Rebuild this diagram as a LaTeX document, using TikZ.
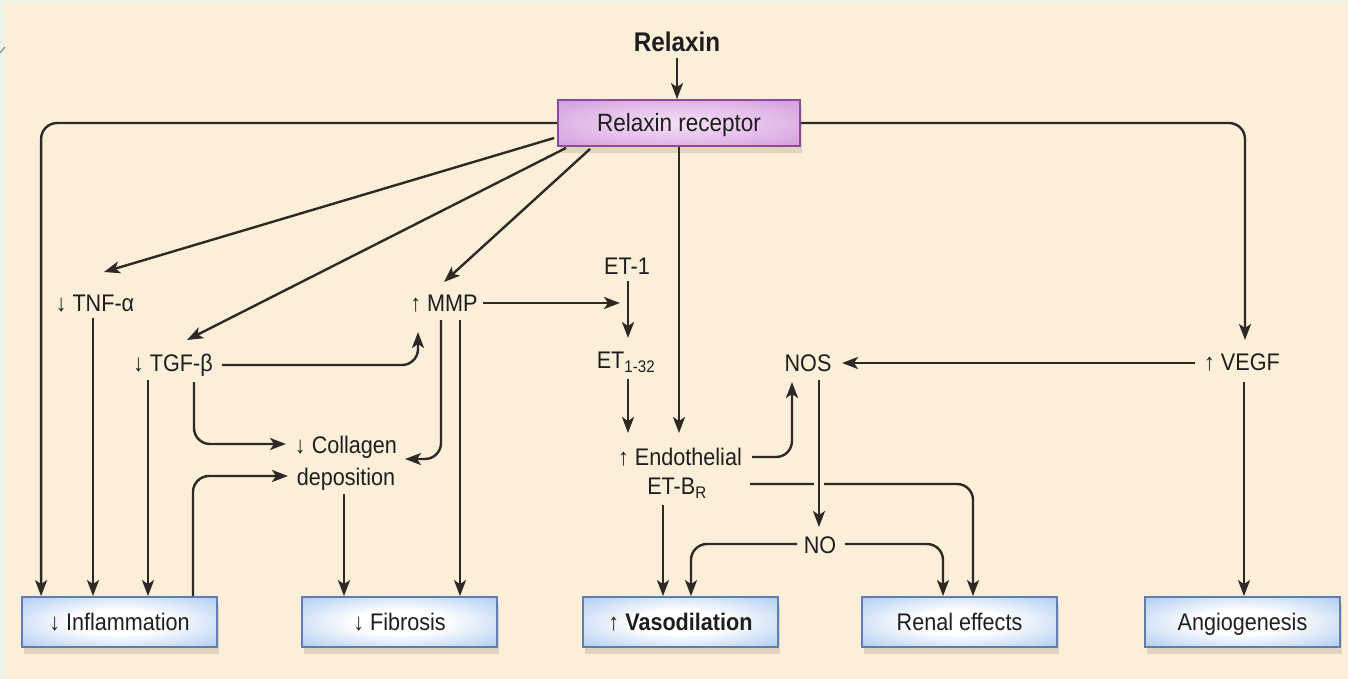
\documentclass[tikz,border=0pt]{standalone}
\usepackage{fontspec}
\setmainfont{Liberation Sans}[FakeStretch=0.9]
\usetikzlibrary{arrows.meta,calc,shadows}
\definecolor{bggreen}{HTML}{EEF2E2}
\definecolor{cream}{HTML}{FCEFDA}
\definecolor{ink}{HTML}{2E2925}
\definecolor{txt}{HTML}{1E1E1E}
\definecolor{bluebd}{HTML}{5F7DAE}
\definecolor{blueout}{HTML}{92B5E8}
\definecolor{bluemid}{HTML}{C3D9F5}
\definecolor{purbd}{HTML}{8C4A98}
\definecolor{purout}{HTML}{BF78CE}
\definecolor{purmid}{HTML}{E6C0EC}
\definecolor{purin}{HTML}{F3E1F5}
\definecolor{purmo}{HTML}{D29CDD}
\definecolor{shadowc}{HTML}{8A7A5E}
\pgfdeclareradialshading{blueglow}{\pgfpoint{0bp}{0bp}}{color(0bp)=(white); color(12bp)=(white); color(30bp)=(bluemid); color(46bp)=(blueout); color(72bp)=(blueout)}
\pgfdeclareradialshading{purglow}{\pgfpoint{0bp}{0bp}}{color(0bp)=(purin); color(18bp)=(purmid); color(36bp)=(purmo); color(48bp)=(purout); color(72bp)=(purout)}
\tikzset{
  lbl/.style={inner sep=0pt, text=txt, font=\fontsize{24}{28}\selectfont, text height=17pt, text depth=0pt},
  outbox/.style={draw=bluebd, line width=1.8pt, shading=blueglow, minimum width=195pt, minimum height=50pt, inner sep=0pt, text=txt, font=\fontsize{24}{28}\selectfont, text height=17pt, text depth=0pt, drop shadow={shadow xshift=2pt, shadow yshift=-7pt, fill=shadowc, opacity=0.22}},
  recbox/.style={draw=purbd, line width=1.8pt, shading=purglow, minimum width=242pt, minimum height=46pt, inner sep=0pt, text=txt, font=\fontsize{25}{29}\selectfont, text height=18pt, text depth=0pt, drop shadow={shadow xshift=2pt, shadow yshift=-7pt, fill=shadowc, opacity=0.22}},
  conn/.style={draw=ink, line width=2.4pt, -{Stealth[length=16pt,width=12pt,inset=4pt]}, rounded corners=16pt},
}
\begin{document}
\begin{tikzpicture}[x=1pt,y=-1pt]
\useasboundingbox (0,0) rectangle (1348,679);
\fill[bggreen] (0,0) rectangle (1348,679);
\fill[cream] (5,3) rectangle (1348,679);
\draw[gray, line width=1pt] (0,53) -- (5,47);

% nodes
\node[lbl, font=\bfseries\fontsize{27}{31}\selectfont, text height=19pt] (relaxin) at (677,42) {Relaxin};
\node[recbox] (rec) at (679,123) {Relaxin receptor};
\node[lbl] (tnf) at (95,303) {↓ TNF-α};
\node[lbl] (tgf) at (173,363) {↓ TGF-β};
\node[lbl] (mmp) at (444,303) {↑ MMP};
\node[lbl] (et1) at (627,266) {ET-1};
\node[lbl] (et132) at (626,360) {ET\textsubscript{1-32}};
\node[lbl] (endo) at (680,457) {↑ Endothelial};
\node[lbl] (etb) at (677,486) {ET-B\textsubscript{R}};
\node[lbl] (nos) at (808,363) {NOS};
\node[lbl] (vegf) at (1242,362) {↑ VEGF};
\node[lbl] (no) at (820,545) {NO};
\node[lbl] (coll) at (346,445) {↓ Collagen};
\node[lbl] (dep) at (346,477) {deposition};

\node[outbox] (infl) at (119.5,622) {↓ Inflammation};
\node[outbox] (fib) at (399.5,622) {↓ Fibrosis};
\node[outbox, font=\bfseries\fontsize{24}{28}\selectfont] (vaso) at (680.5,622) {↑ Vasodilation};
\node[outbox] (renal) at (959.5,622) {Renal effects};
\node[outbox] (angio) at (1242.5,622) {Angiogenesis};

% connectors
\draw[conn] ($(relaxin)+(0,16)$) -- ($(rec.north)+(-2,0)$);
\draw[conn] (rec.west) -| ($(infl.north west)+(20,0)$);
\draw[conn] (rec.east) -| ($(vegf)+(3,-22)$);
\draw[conn] ($(rec.west)+(-3,15)$) -- ($(tnf)+(9,-31)$);
\draw[conn] ($(rec.south west)+(9,1)$) -- ($(tgf)+(14,-23)$);
\draw[conn] ($(rec.south west)+(33,2)$) -- ($(mmp)+(0,-21)$);
\draw[conn] (rec.south) -- ($(endo)+(-1,-24)$);
\draw[conn] ($(mmp)+(39,0)$) -- ($(et1)+(-7,37)$);
\draw[conn] ($(et1)+(1,15)$) -- ($(et132)+(2,-22)$);
\draw[conn] ($(et132)+(2,19)$) -- ($(endo)+(-52,-24)$);
\draw[conn] ($(endo)+(72,0)$) -| ($(nos)+(-16,19)$);
\draw[conn] ($(vegf)+(-47,1)$) -- ($(nos)+(34,0)$);
\draw[conn] ($(etb)+(73,-2)$) -| ($(renal.north)+(13.5,0)$);
\draw[conn, preaction={draw=cream, line width=10pt, -}] ($(nos)+(11,17)$) -- ($(no)+(-1,-18)$);
\draw[conn] ($(etb)+(-14,19)$) -- ($(vaso.north)+(-17.5,0)$);
\draw[conn] ($(no)+(-23,-1)$) -| ($(vaso.north)+(10.5,0)$);
\draw[conn] ($(no)+(25,-1)$) -| ($(renal.north)+(-16.5,0)$);
\draw[conn] ($(vegf)+(2,20)$) -- ($(angio.north)+(1.5,0)$);
\draw[conn] ($(tnf)+(-2,15)$) -- ($(infl.north)+(-26.5,0)$);
\draw[conn] ($(tgf)+(-25,17)$) -- ($(infl.north)+(28.5,0)$);
\draw[conn] ($(tgf)+(49,2)$) -| ($(mmp)+(-26,29)$);
\draw[conn] ($(tgf)+(21,19)$) |- ($(coll)+(-60,-1)$);
\draw[conn] ($(infl.north)+(73.5,0)$) |- ($(dep)+(-58,-1)$);
\draw[conn] ($(mmp)+(-3,17)$) |- ($(coll)+(59,14)$);
\draw[conn] ($(mmp)+(16,17)$) -- ($(fib.north)+(60.5,0)$);
\draw[conn] ($(dep)+(-2,17)$) -- ($(fib.north)+(-55.5,0)$);
\end{tikzpicture}
\end{document}
